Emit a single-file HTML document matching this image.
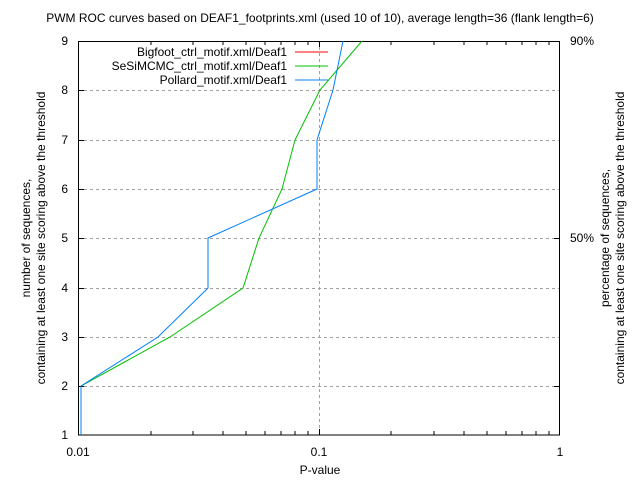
<!DOCTYPE html><html><head><style>body{margin:0;background:#fff}svg{display:block}text{font-family:"Liberation Sans",sans-serif;font-size:12px;fill:#000}</style></head><body>
<svg width="640" height="480" viewBox="0 0 640 480">
<rect width="640" height="480" fill="#fff"/>
<g stroke="#a0a0a0" stroke-dasharray="3,3" stroke-width="1">
<line x1="78" y1="386.5" x2="560" y2="386.5"/><line x1="78" y1="337.5" x2="560" y2="337.5"/><line x1="78" y1="288.5" x2="560" y2="288.5"/><line x1="78" y1="238.5" x2="560" y2="238.5"/><line x1="78" y1="189.5" x2="560" y2="189.5"/><line x1="78" y1="140.5" x2="560" y2="140.5"/><line x1="78" y1="90.5" x2="560" y2="90.5"/><line x1="319.5" y1="41" x2="319.5" y2="435"/>
</g>
<g stroke="#000" stroke-width="1" fill="none">
<rect x="78.5" y="41.5" width="481" height="393.5"/>
<path d="M78 386.5h6M78 337.5h6M78 288.5h6M78 238.5h6M78 189.5h6M78 140.5h6M78 90.5h6M560 386.5h-6M560 238.5h-6M560 41.5h-6M319.5 435v-6M319.5 41v6"/>
<path d="M151 435v-4M193 435v-4M223 435v-4M246 435v-4M265 435v-4M281 435v-4M295 435v-4M308 435v-4M391 435v-4M434 435v-4M464 435v-4M487 435v-4M506 435v-4M522 435v-4M536 435v-4M549 435v-4"/>
<path d="M151 41v4M193 41v4M223 41v4M246 41v4M265 41v4M281 41v4M295 41v4M308 41v4M391 41v4M434 41v4M464 41v4M487 41v4M506 41v4M522 41v4M536 41v4M549 41v4"/>
</g>
<polyline fill="none" stroke="#00c000" stroke-width="1" points="81,386 170,337 243,288 259,238 282,189 295,140 320,90 362,41"/>
<polyline fill="none" stroke="#0080ff" stroke-width="1" points="81,435 81,386 158,337 208,288 208,238 317,189 317,140 333,90 343,41"/>
<line x1="295" y1="52" x2="328" y2="52" stroke="#ff0000"/>
<line x1="295" y1="66" x2="328" y2="66" stroke="#00c000"/>
<line x1="295" y1="80" x2="328" y2="80" stroke="#0080ff"/>
<g text-anchor="end"><text x="287" y="56">Bigfoot_ctrl_motif.xml/Deaf1</text><text x="287" y="70">SeSiMCMC_ctrl_motif.xml/Deaf1</text><text x="287" y="84">Pollard_motif.xml/Deaf1</text>
<text x="68" y="439">1</text><text x="68" y="390">2</text><text x="68" y="341">3</text><text x="68" y="292">4</text><text x="68" y="242">5</text><text x="68" y="193">6</text><text x="68" y="144">7</text><text x="68" y="94">8</text><text x="68" y="45">9</text></g>
<text x="570" y="45">90%</text><text x="570" y="242">50%</text>
<g text-anchor="middle"><text x="78" y="456">0.01</text><text x="319" y="456">0.1</text><text x="560" y="456">1</text>
<text x="320" y="474">P-value</text>
<text x="320" y="22">PWM ROC curves based on DEAF1_footprints.xml (used 10 of 10), average length=36 (flank length=6)</text>
<text transform="translate(30,238) rotate(-90)">number of sequences,</text>
<text transform="translate(45,238) rotate(-90)">containing at least one site scoring above the threshold</text>
<text transform="translate(609,238) rotate(-90)">percentage of sequences,</text>
<text transform="translate(624,238) rotate(-90)">containing at least one site scoring above the threshold</text></g>
</svg></body></html>
